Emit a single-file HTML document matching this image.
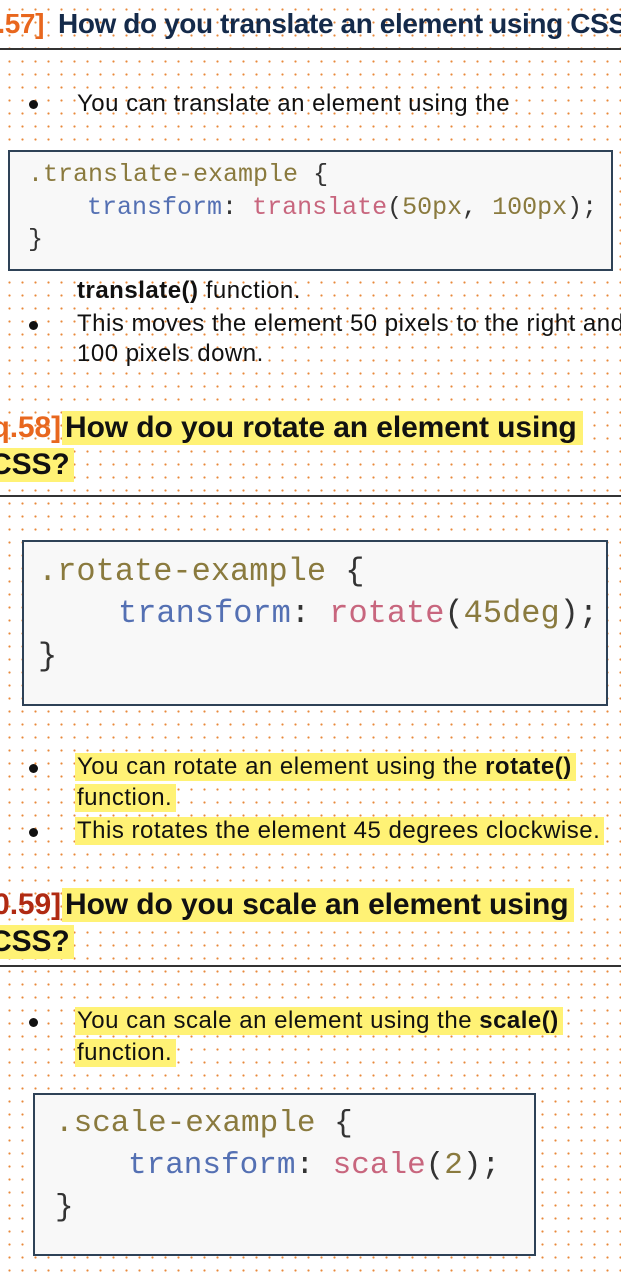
<!DOCTYPE html>
<html><head><meta charset="utf-8"><style>
*{margin:0;padding:0;box-sizing:border-box}
body{width:621px;height:1280px;position:relative;overflow:hidden;background:#fff;
background-image:radial-gradient(circle,#e8893a 0.9px,transparent 1.3px);background-size:13px 13px;background-position:3px 3px;
font-family:"Liberation Sans",sans-serif;color:#111}
.a{position:absolute;white-space:nowrap}
.t1{font-weight:bold;font-size:28px;letter-spacing:-0.4px;color:#142a4a}
.t{font-weight:bold;font-size:30px;letter-spacing:-0.1px;color:#111}
.o{color:#e8671e}
.h{background:#fff275}
.p{font-size:24px;letter-spacing:0.5px}
.dot{position:absolute;width:9px;height:9px;border-radius:50%;background:#111}
.line{position:absolute;left:0;width:621px;height:2px;background:#333}
.box{position:absolute;background:#f8f8f8;border:2px solid #2e4257}
.m{font-family:"Liberation Mono",monospace;position:absolute;white-space:nowrap}
.s{color:#8a7a3e}.k{color:#5470b3}.f{color:#c8667e}.n{color:#8a7a3e}.d{color:#333}
.pre{position:absolute;text-align:right;white-space:nowrap}
</style></head><body>
<div class="pre t1 o" style="right:577px;top:8px">Q.57]</div>
<div class="a t1" style="left:58px;top:8px">How do you translate an element using CSS</div>
<div class="line" style="top:48px"></div>
<div class="dot" style="left:29px;top:100px"></div>
<div class="a p" style="left:77px;top:90px">You can translate an element using the</div>
<div class="box" style="left:8px;top:150px;width:605px;height:121px"></div>
<div class="m" style="left:28px;top:160px;font-size:25px"><span class="s">.translate-example</span> <span class="d">{</span></div>
<div class="m" style="left:87px;top:193px;font-size:25px"><span class="k">transform</span><span class="d">:</span> <span class="f">translate</span><span class="d">(</span><span class="n">50px</span><span class="d">,</span> <span class="n">100px</span><span class="d">);</span></div>
<div class="m d" style="left:28px;top:225px;font-size:25px">}</div>
<div class="a p" style="left:77px;top:277px"><b>translate()</b> function.</div>
<div class="dot" style="left:29px;top:321px"></div>
<div class="a p" style="left:77px;top:310px">This moves the element 50 pixels to the right and</div>
<div class="a p" style="left:77px;top:340px">100 pixels down.</div>

<div class="pre t o" style="right:560px;top:411px">q.58]</div>
<div class="a t h" style="left:62px;top:411px;padding:0 6px 0 3px">How do you rotate an element using</div>
<div class="a t h" style="left:-10px;top:448px;padding-right:4px">CSS?</div>
<div class="line" style="top:495px;height:1.5px"></div>
<div class="box" style="left:22px;top:540px;width:586px;height:166px"></div>
<div class="m" style="left:38px;top:553px;font-size:32px"><span class="s">.rotate-example</span> <span class="d">{</span></div>
<div class="m" style="left:118px;top:595px;font-size:32px"><span class="k">transform</span><span class="d">:</span> <span class="f">rotate</span><span class="d">(</span><span class="n">45deg</span><span class="d">);</span></div>
<div class="m d" style="left:38px;top:638px;font-size:32px">}</div>
<div class="dot" style="left:29px;top:764px"></div>
<div class="a p h" style="left:75px;top:753px;padding:0 4px 0 2px">You can rotate an element using the <b>rotate()</b></div>
<div class="a p h" style="left:75px;top:784px;padding:0 4px 0 2px">function.</div>
<div class="dot" style="left:29px;top:828px"></div>
<div class="a p h" style="left:75px;top:817px;padding:0 4px 0 2px">This rotates the element 45 degrees clockwise.</div>

<div class="pre t" style="right:560px;top:888px;color:#b02a12">0.59]</div>
<div class="a t h" style="left:62px;top:888px;padding:0 6px 0 3px">How do you scale an element using</div>
<div class="a t h" style="left:-10px;top:925px;padding-right:4px">CSS?</div>
<div class="line" style="top:965px;height:1.5px"></div>
<div class="dot" style="left:29px;top:1018px"></div>
<div class="a p h" style="left:75px;top:1007px;padding:0 4px 0 2px">You can scale an element using the <b>scale()</b></div>
<div class="a p h" style="left:75px;top:1039px;padding:0 4px 0 2px">function.</div>
<div class="box" style="left:33px;top:1093px;width:503px;height:163px"></div>
<div class="m" style="left:55px;top:1106px;font-size:31px"><span class="s">.scale-example</span> <span class="d">{</span></div>
<div class="m" style="left:128px;top:1148px;font-size:31px"><span class="k">transform</span><span class="d">:</span> <span class="f">scale</span><span class="d">(</span><span class="n">2</span><span class="d">);</span></div>
<div class="m d" style="left:55px;top:1190px;font-size:31px">}</div>
</body></html>
